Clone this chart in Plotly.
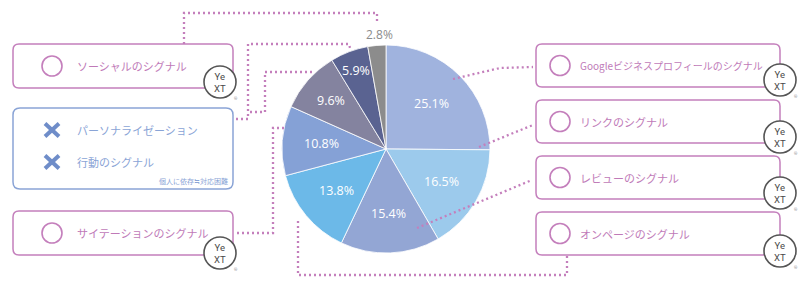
import math
import plotly.graph_objects as go

# ---------------- data ----------------
slice_names = ["Googleビジネスプロフィール", "リンク", "レビュー", "オンページ",
               "サイテーション", "行動", "パーソナライゼーション", "ソーシャル"]
slice_values = [25.1, 16.5, 15.4, 13.8, 10.8, 9.6, 5.9, 2.8]
slice_colors = ["#a0b3de", "#9ccaec", "#93a6d4", "#6cb9e8",
                "#85a1d6", "#84839f", "#5a6391", "#8c8c8c"]

right_labels = ["Googleビジネスプロフィールのシグナル", "リンクのシグナル",
                "レビューのシグナル", "オンページのシグナル"]
left_labels = ["ソーシャルのシグナル", "サイテーションのシグナル"]
blue_items = ["パーソナライゼーション", "行動のシグナル"]
blue_note = "個人に依存≒対応困難"

# ---------------- style ----------------
W, H = 800, 307
PINK = "#c47fbc"
PINK_TXT = "#c07ab8"
BLUE = "#8aa4d6"
BLUE_X = "#6f8dc9"
JP = "Noto Sans CJK JP"

cx, cy, R = 386, 149, 104

fig = go.Figure()

fig.add_trace(go.Pie(
    labels=slice_names, values=slice_values, sort=False, direction="clockwise",
    marker=dict(colors=slice_colors, line=dict(color="white", width=0.8)),
    textinfo="none",
    domain=dict(x=[(cx - R) / W, (cx + R) / W], y=[1 - (cy + R) / H, 1 - (cy - R) / H]),
    showlegend=False, hoverinfo="skip",
))

shapes = []
annotations = []

# percentage labels placed on each slice's bisector (computed from the values)
total = sum(slice_values)
cum = 0.0
for i, v in enumerate(slice_values):
    frac_mid = (cum + v / 2) / total
    half = math.pi * v / total
    cum += v
    ang = 2 * math.pi * frac_mid
    if i == len(slice_values) - 1:
        continue
    r = max(0.62 * R, 15.5 / math.sin(half))
    if v < 10:
        r = max(r, 0.71 * R)
    x = cx + r * math.sin(ang)
    y = cy - r * math.cos(ang)
    annotations.append(dict(x=x, y=y, xref="x", yref="y", text=f"{v}%", showarrow=False,
                            font=dict(family="Open Sans", size=12.5, color="white"),
                            xanchor="center", yanchor="middle"))


def rrect(x0, y0, x1, y1, r, color, width=1.5):
    p = (f"M{x0+r},{y0} L{x1-r},{y0} Q{x1},{y0} {x1},{y0+r} L{x1},{y1-r} "
         f"Q{x1},{y1} {x1-r},{y1} L{x0+r},{y1} Q{x0},{y1} {x0},{y1-r} "
         f"L{x0},{y0+r} Q{x0},{y0} {x0+r},{y0} Z")
    shapes.append(dict(type="path", path=p, xref="x", yref="y",
                       line=dict(color=color, width=width), fillcolor="white", layer="above"))


def ring(x, y, r, color, width=1.6, fill="rgba(0,0,0,0)"):
    shapes.append(dict(type="circle", xref="x", yref="y", x0=x - r, x1=x + r, y0=y - r, y1=y + r,
                       line=dict(color=color, width=width), fillcolor=fill, layer="above"))


def yext(x, y):
    ring(x, y, 16, "#555555", 1.6, "white")
    annotations.append(dict(x=x, y=y + 0.5, xref="x", yref="y", text="Ye<br>XT", showarrow=False,
                            font=dict(family="Roboto", size=9.5, color="#4a4a4a"),
                            xanchor="center", yanchor="middle"))
    annotations.append(dict(x=x + 16, y=y + 16, xref="x", yref="y", text="®", showarrow=False,
                            font=dict(size=4, color="#777777"), xanchor="center", yanchor="middle"))


def dots(points):
    p = "M" + " L".join(f"{a},{b}" for a, b in points)
    shapes.append(dict(type="path", path=p, xref="x", yref="y",
                       line=dict(color=PINK, width=2.3, dash="2px,3px"), layer="above"))


def label(x, y, text, color, size=11, anchor="left"):
    annotations.append(dict(x=x, y=y, xref="x", yref="y", text=text, showarrow=False,
                            font=dict(family=JP, size=size, color=color),
                            xanchor=anchor, yanchor="middle"))


# dotted connectors (drawn first so boxes cover their ends)
dots([(184, 44), (184, 13), (377, 13), (377, 23)])             # social
dots([(236, 119), (248, 119), (248, 44), (349, 44), (350, 48)])  # personalization
dots([(250, 112), (265, 112), (265, 72), (313, 72)])           # behaviour
dots([(237, 233), (273, 233), (273, 128), (285, 128)])         # citations
dots([(567, 256), (567, 275), (298, 275), (298, 218)])         # on-page
dots([(417, 228), (532, 180)])                                 # reviews
dots([(479, 147), (533, 125)])                                 # links
dots([(453, 79), (500, 68), (533, 67)])                        # GBP

# left boxes
left_rows = [(44, 88), (211, 255)]
left_logo_y = [82, 253]
for (y0, y1), ly, txt in zip(left_rows, left_logo_y, left_labels):
    rrect(13, y0, 233, y1, 6, PINK)
    yc = (y0 + y1) / 2
    ring(52, yc, 10, PINK)
    label(75, yc, txt, PINK_TXT)
    yext(220, ly)

# blue box
rrect(13, 108, 233, 189, 7, BLUE)
for yc, txt in zip([130, 162], blue_items):
    shapes.append(dict(type="line", xref="x", yref="y", x0=45, x1=59, y0=yc - 6.5, y1=yc + 6.5,
                       line=dict(color=BLUE_X, width=4), layer="above"))
    shapes.append(dict(type="line", xref="x", yref="y", x0=45, x1=59, y0=yc + 6.5, y1=yc - 6.5,
                       line=dict(color=BLUE_X, width=4), layer="above"))
    label(75, yc, txt, BLUE)
label(230, 181, blue_note, BLUE, size=7, anchor="right")

# right boxes
right_rows = [(44, 87), (100, 143), (156, 199), (212, 255)]
right_logo_y = [80, 137, 193, 251]
for (y0, y1), ly, txt in zip(right_rows, right_logo_y, right_labels):
    rrect(536, y0, 780, y1, 6, PINK)
    yc = (y0 + y1) / 2
    ring(560, yc, 10, PINK)
    label(578, yc, txt, PINK_TXT, size=10 if len(txt) > 12 else 11)
    yext(780, ly)

# outside label for the smallest slice
annotations.append(dict(x=379, y=34, xref="x", yref="y", text=f"{slice_values[-1]}%",
                        showarrow=False, font=dict(family="Open Sans", size=12, color="#8c8c8c"),
                        xanchor="center", yanchor="middle"))

fig.update_layout(
    width=W, height=H, margin=dict(l=0, r=0, t=0, b=0),
    paper_bgcolor="white", plot_bgcolor="rgba(0,0,0,0)",
    xaxis=dict(range=[0, W], visible=False, fixedrange=True),
    yaxis=dict(range=[H, 0], visible=False, fixedrange=True),
    shapes=shapes, annotations=annotations, showlegend=False,
)

fig.write_html("out.html")
